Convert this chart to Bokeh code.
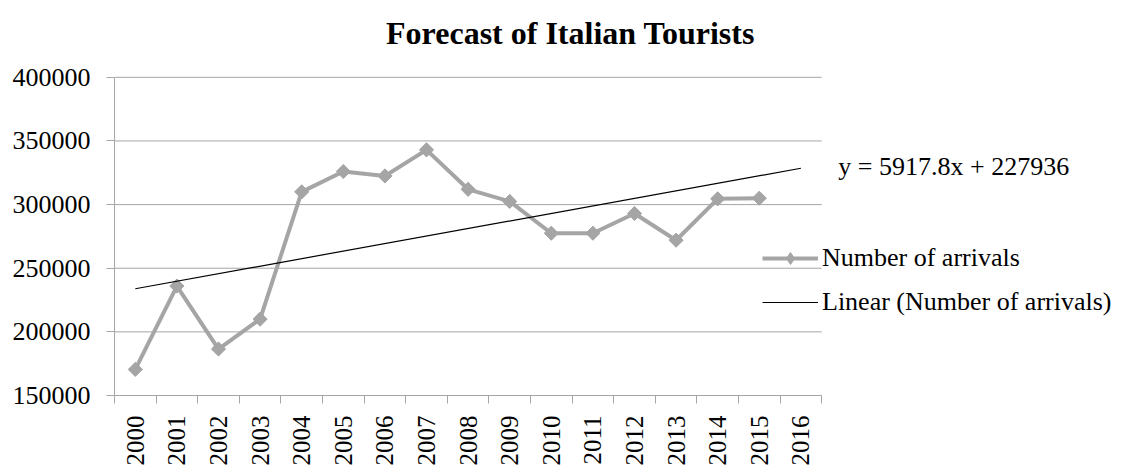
from bokeh.plotting import figure
from bokeh.models import (Range1d, FixedTicker, Legend, LegendItem, Label,
                          ColumnDataSource, BasicTickFormatter)
from bokeh.embed import file_html
from bokeh.resources import INLINE
import math

# ---- data ----
years = [str(y) for y in range(2000, 2017)]
arrivals = [170500, 236000, 186500, 210000, 310000, 326000, 322500, 343000,
            312000, 302500, 277500, 277500, 293000, 272000, 304500, 305000]
trend_slope = 5917.8
trend_intercept = 227936
y_ticks = [150000, 200000, 250000, 300000, 350000, 400000]
title_text = "Forecast of Italian Tourists"
equation_text = "y = 5917.8x + 227936"

x_idx = list(range(1, len(arrivals) + 1))
trend_x = [1, len(years)]
trend_y = [trend_slope * x + trend_intercept for x in trend_x]

FONT = "Liberation Serif"
GRID = "#a6a6a6"
SERIES = "#a5a5a5"

n = len(years)
W, H = 1122, 468
left_px, bottom_px = 114, 72
unit_px = 41.6                      # px per category
y_px_per = 319.0 / 250000.0         # px per unit of value
x_end = 0.5 + (W - left_px) / unit_px
y_end = 150000 + (H - bottom_px) / y_px_per

p = figure(width=W, height=H, output_backend="svg", toolbar_location=None,
           x_range=Range1d(0.5, x_end), y_range=Range1d(150000, y_end),
           min_border_left=left_px, min_border_right=0, min_border_top=0,
           min_border_bottom=bottom_px)
p.outline_line_color = None
p.background_fill_color = "white"
p.border_fill_color = "white"

# grid: horizontal lines only over the category span
p.xgrid.grid_line_color = None
p.ygrid.grid_line_color = None
p.segment(x0=[0.5] * len(y_ticks), x1=[n + 0.5] * len(y_ticks), y0=y_ticks, y1=y_ticks,
          line_color=GRID, line_width=1)

# y axis
p.yaxis.ticker = FixedTicker(ticks=y_ticks)
p.yaxis.bounds = (y_ticks[0], y_ticks[-1])
p.yaxis.formatter = BasicTickFormatter(use_scientific=False)
p.yaxis.axis_line_color = GRID
p.yaxis.major_tick_line_color = GRID
p.yaxis.major_tick_out = 8
p.yaxis.major_tick_in = 0
p.yaxis.minor_tick_line_color = None
p.yaxis.major_label_standoff = 16
p.yaxis.major_label_text_font = FONT
p.yaxis.major_label_text_font_size = "26px"
p.yaxis.major_label_text_color = "black"

# x axis: labels at centers, ticks at boundaries
centers = list(range(1, n + 1))
bounds = [c - 0.5 for c in centers] + [n + 0.5]
p.xaxis.ticker = FixedTicker(ticks=centers, minor_ticks=bounds)
p.xaxis.major_label_overrides = {c: y for c, y in zip(centers, years)}
p.xaxis.bounds = (0.5, n + 0.5)
p.xaxis.axis_line_color = GRID
p.xaxis.major_tick_line_color = None
p.xaxis.major_tick_out = 8
p.xaxis.major_tick_in = 0
p.xaxis.minor_tick_line_color = GRID
p.xaxis.minor_tick_out = 8
p.xaxis.minor_tick_in = 0
p.xaxis.major_label_orientation = math.pi / 2
p.xaxis.major_label_standoff = 12
p.xaxis.major_label_text_font = FONT
p.xaxis.major_label_text_font_size = "25px"
p.xaxis.major_label_text_color = "black"

src = ColumnDataSource(dict(x=x_idx, y=arrivals))
r_line = p.line("x", "y", source=src, line_color=SERIES, line_width=4)
# diamond used as legend key (hidden underneath the rotated-square markers)
r_leg_marker = p.scatter("x", "y", source=src, marker="diamond", size=13,
                         fill_color=SERIES, line_color=SERIES)
r_pts = p.scatter("x", "y", source=src, marker="square", angle=math.pi / 4, size=10,
                  fill_color=SERIES, line_color=SERIES)
r_trend = p.line(trend_x, trend_y, line_color="black", line_width=1.2)

legend = Legend(items=[LegendItem(label="Number of arrivals", renderers=[r_line, r_leg_marker]),
                       LegendItem(label="Linear (Number of arrivals)", renderers=[r_trend])],
                location=(648, 78), orientation="vertical",
                glyph_width=56, glyph_height=30, label_height=30, spacing=14,
                label_standoff=4, padding=0, margin=0,
                border_line_color=None, background_fill_alpha=0,
                label_text_font=FONT, label_text_font_size="26px",
                label_text_color="black")
p.add_layout(legend, "center")

# title (as label in data space, above the plotted area)
title_x = 0.5 + (570 - left_px) / unit_px
title_y = 150000 + (H - bottom_px - 33) / y_px_per
p.add_layout(Label(x=title_x, y=title_y, text=title_text, text_font=FONT,
                   text_font_size="32px", text_font_style="bold", text_color="black",
                   text_align="center", text_baseline="middle"))

eq_y = 150000 + (H - bottom_px - 166) / y_px_per
p.add_layout(Label(x=17.9, y=eq_y, text=equation_text, text_font=FONT,
                   text_font_size="26px", text_color="black", text_baseline="middle"))

open("out.html", "w").write(file_html(p, INLINE))
